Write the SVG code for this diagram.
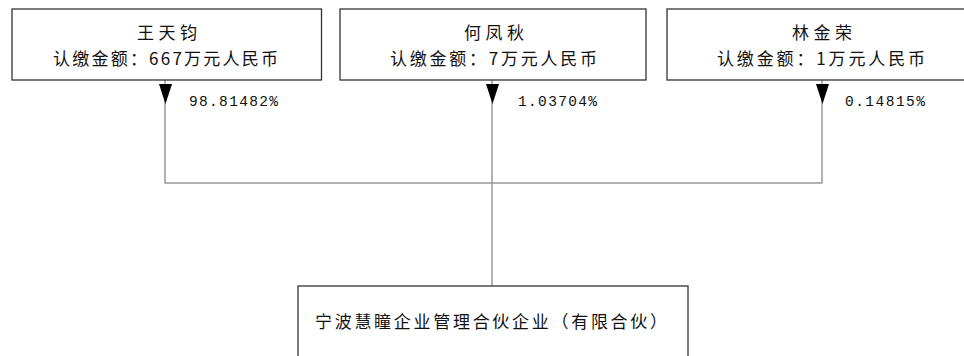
<svg xmlns="http://www.w3.org/2000/svg" width="964" height="356" viewBox="0 0 964 356">
<style>
.box{fill:#fff;stroke:#333;stroke-width:1.3}
.t{font-family:"Noto Sans CJK SC","Liberation Sans",sans-serif;font-size:17px;fill:#111;text-anchor:middle}
.p{font-family:"Liberation Mono","Noto Sans CJK SC",monospace;font-size:14.5px;fill:#111}
.c{stroke:#999;stroke-width:1.5;fill:none}
.a{fill:#000}
</style>
<rect width="964" height="356" fill="#fff"/>
<g id="connectors">
<path class="c" d="M165,80 V183 M492,80 V183 M822,80 V183 M164.3,183 H822.7 M492,183 V286"/>
<polygon class="a" points="159,84 172,84 165.5,104"/>
<polygon class="a" points="486,84 499,84 492.5,104"/>
<polygon class="a" points="816,84 829,84 822.5,104"/>
<text class="p" x="189" y="106" textLength="89" lengthAdjust="spacing">98.81482%</text>
<text class="p" x="518" y="106" textLength="79" lengthAdjust="spacing">1.03704%</text>
<text class="p" x="845" y="106" textLength="80" lengthAdjust="spacing">0.14815%</text>
</g>
<g id="node-wang">
<rect class="box" x="12" y="9" width="309.5" height="71"/>
<text class="t" x="167" y="38.5" textLength="60" lengthAdjust="spacing">王天钧</text>
<text class="t" x="165.5" y="64.5" textLength="225" lengthAdjust="spacing">认缴金额：667万元人民币</text>
</g>
<g id="node-he">
<rect class="box" x="340" y="9" width="306" height="71"/>
<text class="t" x="494" y="38.5" textLength="60" lengthAdjust="spacing">何凤秋</text>
<text class="t" x="493.5" y="64.5" textLength="207" lengthAdjust="spacing">认缴金额：7万元人民币</text>
</g>
<g id="node-lin">
<rect class="box" x="667" y="9" width="308" height="71"/>
<text class="t" x="822" y="38.5" textLength="60" lengthAdjust="spacing">林金荣</text>
<text class="t" x="821" y="64.5" textLength="208" lengthAdjust="spacing">认缴金额：1万元人民币</text>
</g>
<g id="node-ningbo">
<rect class="box" x="298" y="286" width="390" height="90"/>
<text class="t" x="491" y="327.5" textLength="352" lengthAdjust="spacing">宁波慧瞳企业管理合伙企业（有限合伙）</text>
</g>
</svg>
